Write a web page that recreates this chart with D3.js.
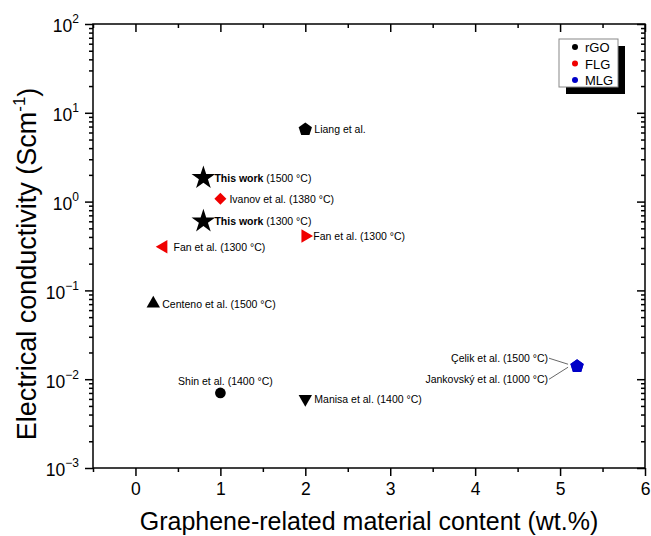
<!DOCTYPE html>
<html>
<head>
<meta charset="utf-8">
<script src="https://cdn.jsdelivr.net/npm/d3@7"></script>
<style>
  body { margin: 0; background: #fff; }
  text { font-family: "Liberation Sans", Arial, sans-serif; }
</style>
</head>
<body>
<div id="chart"></div>
<script>
// data
var names = ["Liang et al.", "This work", "Ivanov et al.", "This work", "Fan et al.", "Fan et al.",
  "Centeno et al.", "Shin et al.", "Manisa et al.", "Çelik et al.", "Jankovský et al."];
var temps = ["", "(1500 °C)", "(1380 °C)", "(1300 °C)", "(1300 °C)", "(1300 °C)",
  "(1500 °C)", "(1400 °C)", "(1400 °C)", "(1500 °C)", "(1000 °C)"];
var content = [2.0, 0.8, 1.0, 0.8, 2.0, 0.33, 0.21, 1.0, 2.0, 5.2, 5.2];
var conductivity = [6.5, 1.85, 1.08, 0.6, 0.41, 0.31, 0.071, 0.007, 0.006, 0.014, 0.014];
var material = ["rGO", "rGO", "FLG", "rGO", "FLG", "FLG", "rGO", "rGO", "rGO", "MLG", "MLG"];
var legendNames = ["rGO", "FLG", "MLG"];
var xTicks = [0, 1, 2, 3, 4, 5, 6];
var yTicks = [1e-3, 1e-2, 1e-1, 1e0, 1e1, 1e2];
var yExp = ["\u22123", "\u22122", "\u22121", "0", "1", "2"];

// styling for each point (marker shape, label offset)
var shapes = ["pentagon", "star", "diamond", "star", "triRight", "triLeft", "triUp", "circle", "triDown", "pentagon", "pentagon"];
var labelPos = [[9, 4, "start"], [11, 4, "start"], [9, 4, "start"], [11, 4, "start"], [8, 4, "start"],
  [10, 4, "start"], [9, 4, "start"], [5, -8, "middle"], [9, 4, "start"], [-29, -4, "end"], [-29, 17, "end"]];
var colors = { rGO: "#000000", FLG: "#f00000", MLG: "#0000c8" };

var svgWidth = 651;
var svgHeight = 536;
var margin = { top: 24, right: 6, bottom: 68, left: 93 };
var width = svgWidth - margin.left - margin.right;
var height = svgHeight - margin.top - margin.bottom;

var svg = d3.select("#chart")
  .append("svg")
  .attr("width", svgWidth)
  .attr("height", svgHeight);

var chartGroup = svg.append("g")
  .attr("transform", `translate(${margin.left}, ${margin.top})`);

var xScale = d3.scaleLinear().domain([-0.5, 6]).range([0, width]);
var yScale = d3.scaleLog().domain([1e-3, 1e2]).range([height, 0]);

var xMinor = d3.range(-0.5, 6, 1);
var yMinor = [];
for (var d = -3; d < 2; d++) {
  for (var k = 2; k <= 9; k++) yMinor.push(k * Math.pow(10, d));
}

function styleAxis(g) {
  g.select(".domain").remove();
  g.selectAll("line").attr("stroke", "#000").attr("stroke-width", 1.5);
}

// bottom axis
chartGroup.append("g")
  .attr("transform", `translate(0, ${height})`)
  .call(d3.axisBottom(xScale).tickValues(xTicks).tickSize(8).tickPadding(7).tickFormat(d3.format("d")))
  .call(styleAxis)
  .selectAll("text").attr("font-size", 17.5).attr("fill", "#000")
  .style("font-family", "Liberation Sans, Arial, sans-serif");
chartGroup.append("g")
  .attr("transform", `translate(0, ${height})`)
  .call(d3.axisBottom(xScale).tickValues(xMinor).tickSize(4).tickFormat(""))
  .call(styleAxis);

// top axis (ticks inside)
chartGroup.append("g")
  .call(d3.axisBottom(xScale).tickValues(xTicks).tickSize(8).tickFormat(""))
  .call(styleAxis);
chartGroup.append("g")
  .call(d3.axisBottom(xScale).tickValues(xMinor).tickSize(4).tickFormat(""))
  .call(styleAxis);

// left axis
var leftAxis = chartGroup.append("g")
  .call(d3.axisLeft(yScale).tickValues(yTicks).tickSize(8).tickPadding(6).tickFormat(""))
  .call(styleAxis);
chartGroup.append("g")
  .call(d3.axisLeft(yScale).tickValues(yMinor).tickSize(4).tickFormat(""))
  .call(styleAxis);

leftAxis.selectAll(".tick text").each(function(v, i) {
  var t = d3.select(this)
    .attr("font-size", 17.5)
    .attr("fill", "#000")
    .attr("dy", "0.45em")
    .style("font-family", "Liberation Sans, Arial, sans-serif");
  t.append("tspan").text("10");
  t.append("tspan").attr("font-size", 12).attr("dy", "-0.75em").text(yExp[yTicks.indexOf(v)]);
});

// right axis (ticks inside)
chartGroup.append("g")
  .attr("transform", `translate(${width}, 0)`)
  .call(d3.axisLeft(yScale).tickValues(yTicks).tickSize(8).tickFormat(""))
  .call(styleAxis);
chartGroup.append("g")
  .attr("transform", `translate(${width}, 0)`)
  .call(d3.axisLeft(yScale).tickValues(yMinor).tickSize(4).tickFormat(""))
  .call(styleAxis);

// frame
chartGroup.append("rect")
  .attr("width", width)
  .attr("height", height)
  .attr("fill", "none")
  .attr("stroke", "#000")
  .attr("stroke-width", 1.5);

// markers
function pentagon(r) {
  var pts = d3.range(5).map(function(i) {
    var a = -Math.PI / 2 + i * 2 * Math.PI / 5;
    return [r * Math.cos(a), r * Math.sin(a)];
  });
  return d3.line()(pts) + "Z";
}

function markerPath(shape) {
  if (shape == "star") return d3.symbol(d3.symbolStar, 175)();
  if (shape == "pentagon") return pentagon(7);
  if (shape == "diamond") return d3.symbol(d3.symbolSquare, 72)();
  if (shape == "circle") return d3.symbol(d3.symbolCircle, 90)();
  return d3.symbol(d3.symbolTriangle, 78)();
}
var rotations = { diamond: 45, triUp: 0, triDown: 180, triRight: 90, triLeft: -90 };

var points = d3.range(names.length);

chartGroup.selectAll("path.marker")
  .data(points)
  .enter()
  .append("path")
  .attr("class", "marker")
  .attr("d", i => markerPath(shapes[i]))
  .attr("transform", i => `translate(${xScale(content[i])}, ${yScale(conductivity[i])}) rotate(${rotations[shapes[i]] || 0})`)
  .attr("fill", i => colors[material[i]]);

// labels
var labels = chartGroup.selectAll("text.label")
  .data(points)
  .enter()
  .append("text")
  .attr("class", "label")
  .attr("x", i => xScale(content[i]) + labelPos[i][0])
  .attr("y", i => yScale(conductivity[i]) + labelPos[i][1])
  .attr("text-anchor", i => labelPos[i][2])
  .attr("font-size", 10.5)
  .attr("fill", "#000");

labels.append("tspan")
  .attr("font-weight", i => names[i] == "This work" ? "bold" : "normal")
  .text(i => names[i]);
labels.append("tspan")
  .text(i => temps[i] ? " " + temps[i] : "");

// leader lines for the shared MLG point
[9, 10].forEach(function(i) {
  var px = xScale(content[i]), py = yScale(conductivity[i]);
  chartGroup.append("line")
    .attr("x1", px - 28).attr("y1", py + labelPos[i][1] - 4)
    .attr("x2", px - 9).attr("y2", py + (i == 9 ? -2 : 1))
    .attr("stroke", "#000").attr("stroke-width", 0.6);
});

// legend
var legend = chartGroup.append("g")
  .attr("transform", `translate(${width - 86}, 15)`);
legend.append("rect")
  .attr("x", 7).attr("y", 7).attr("width", 59).attr("height", 48)
  .attr("fill", "#000");
legend.append("rect")
  .attr("width", 59).attr("height", 48)
  .attr("fill", "#fff").attr("stroke", "#888").attr("stroke-width", 1);
legendNames.forEach(function(name, i) {
  legend.append("circle")
    .attr("cx", 16).attr("cy", 8 + i * 16.5)
    .attr("r", 3)
    .attr("fill", colors[name]);
  legend.append("text")
    .attr("x", 26).attr("y", 8 + i * 16.5 + 5)
    .attr("font-size", 13)
    .text(name);
});

// axis titles
svg.append("text")
  .attr("x", margin.left + xScale(2.75))
  .attr("y", 530)
  .attr("text-anchor", "middle")
  .attr("font-size", 25)
  .text("Graphene-related material content (wt.%)");

var yTitle = svg.append("text")
  .attr("transform", `translate(36, ${margin.top + 240}) rotate(-90)`)
  .attr("text-anchor", "middle")
  .attr("font-size", 27);
yTitle.append("tspan").text("Electrical conductivity (Scm");
yTitle.append("tspan").attr("font-size", 17).attr("dy", "-0.65em").text("-1");
yTitle.append("tspan").attr("dy", "0.45em").text(")");
</script>
</body>
</html>
